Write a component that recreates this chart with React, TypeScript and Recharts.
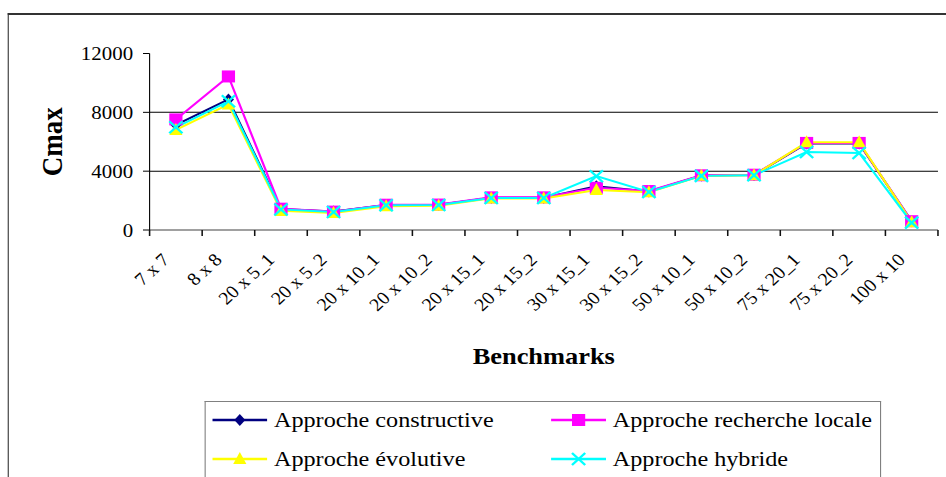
import { LineChart, Line, XAxis, YAxis, ReferenceLine } from 'recharts'

const categories = [
  '7 x 7', '8 x 8', '20 x 5_1', '20 x 5_2', '20 x 10_1', '20 x 10_2', '20 x 15_1', '20 x 15_2',
  '30 x 15_1', '30 x 15_2', '50 x 10_1', '50 x 10_2', '75 x 20_1', '75 x 20_2', '100 x 10',
]
const constructive = [7150, 8880, 1420, 1250, 1700, 1720, 2200, 2200, 2980, 2620, 3700, 3740, 5880, 5880, 600]
const rechercheLocale = [7520, 10440, 1450, 1250, 1720, 1730, 2220, 2220, 2870, 2650, 3720, 3760, 5920, 5920, 600]
const evolutive = [6800, 8540, 1300, 1150, 1620, 1650, 2150, 2150, 2720, 2560, 3680, 3720, 5960, 5960, 520]
const hybride = [6980, 8750, 1400, 1220, 1680, 1700, 2180, 2180, 3660, 2580, 3680, 3720, 5300, 5240, 500]

const yTicks = [0, 4000, 8000, 12000]
const gridValues = [4000, 8000]

const SERIES = [
  { key: 'constructive', name: 'Approche constructive', color: '#000080', shape: 'diamond' },
  { key: 'recherche', name: 'Approche recherche locale', color: '#ff00ff', shape: 'square' },
  { key: 'evolutive', name: 'Approche évolutive', color: '#ffff00', shape: 'triangle' },
  { key: 'hybride', name: 'Approche hybride', color: '#00ffff', shape: 'cross' },
]

const data = categories.map((name, i) => ({
  name,
  constructive: constructive[i],
  recherche: rechercheLocale[i],
  evolutive: evolutive[i],
  hybride: hybride[i],
}))

const FONT = '"Liberation Serif", "Times New Roman", serif'
const SX = 1.1 // the source picture is stretched horizontally
const CHART_W = 860
const CHART_H = 477
const Y_AXIS_W = 136
const MARGIN = { top: 53.5, right: 7.3, bottom: 0, left: 0 }
const BAND = (CHART_W - Y_AXIS_W - MARGIN.right - MARGIN.left) / categories.length

function Marker({ shape, color, cx, cy }: { shape: string; color: string; cx: number; cy: number }) {
  if (shape === 'diamond')
    return <polygon points={`${cx},${cy - 6} ${cx + 5},${cy} ${cx},${cy + 6} ${cx - 5},${cy}`} fill={color} />
  if (shape === 'square') return <rect x={cx - 6} y={cy - 6} width={12} height={12} fill={color} />
  if (shape === 'triangle')
    return <polygon points={`${cx},${cy - 7} ${cx + 6},${cy + 5} ${cx - 6},${cy + 5}`} fill={color} />
  return (
    <g stroke={color} strokeWidth={2.2}>
      <line x1={cx - 6} y1={cy - 6} x2={cx + 6} y2={cy + 6} />
      <line x1={cx - 6} y1={cy + 6} x2={cx + 6} y2={cy - 6} />
    </g>
  )
}

// category label plus Excel-style tick marks on the band edges
const XTick = (props: any) => {
  const { x, y, payload, index } = props
  const ax = x - 5
  const ay = y + 31
  const left = x - BAND / 2
  return (
    <g>
      <rect x={left - 0.7} y={y} width={1.4} height={6} fill="#111" />
      {index === categories.length - 1 && <rect x={left + BAND - 0.7} y={y} width={1.4} height={6} fill="#111" />}
      <text x={ax} y={ay} transform={`rotate(-45 ${ax} ${ay})`} textAnchor="end" fontSize={18} fill="#000" fontFamily={FONT}>
        {payload.value}
      </text>
    </g>
  )
}

function LegendBox() {
  return (
    <div
      style={{
        position: 'absolute', left: 186, top: 401, width: 615, height: 76,
        borderTop: '1px solid #808080', borderLeft: '1px solid #808080', borderRight: '1px solid #808080',
        boxSizing: 'border-box', fontFamily: FONT, fontSize: 22, color: '#000',
      }}
    >
      {SERIES.map((s, i) => {
        const col = i % 2
        const row = Math.floor(i / 2)
        return (
          <div
            key={s.key}
            style={{
              position: 'absolute', left: col === 0 ? 6 : 314, top: row === 0 ? 5 : 44,
              display: 'flex', alignItems: 'center', height: 26, whiteSpace: 'nowrap',
            }}
          >
            <svg width={50} height={18} style={{ marginRight: 6 }}>
              <line x1={0} y1={9} x2={50} y2={9} stroke={s.color} strokeWidth={2.5} />
              <Marker shape={s.shape} color={s.color} cx={25} cy={9} />
            </svg>
            <span>{s.name}</span>
          </div>
        )
      })}
    </div>
  )
}

export default function App() {
  return (
    <div
      style={{
        position: 'absolute', left: 0, top: 0, width: CHART_W, height: CHART_H,
        transform: `scaleX(${SX})`, transformOrigin: '0 0', fontFamily: FONT, overflow: 'hidden',
      }}
    >
      <div
        style={{
          position: 'absolute', left: 6.5, top: 13, width: CHART_W, height: 470,
          borderTop: '2px solid #333', borderLeft: '1.8px solid #333',
        }}
      />
      <div style={{ position: 'absolute', left: 0, top: 0 }}>
        <LineChart width={CHART_W} height={CHART_H} data={data} margin={MARGIN}>
          <XAxis
            dataKey="name"
            scale="band"
            interval={0}
            height={CHART_H - 230}
            axisLine={{ stroke: '#808080', strokeWidth: 1.5 }}
            tickLine={false}
            tickSize={0}
            tickMargin={0}
            tick={<XTick />}
            label={({ viewBox }: any) => (
              <text
                x={viewBox.x + viewBox.width / 2}
                y={viewBox.y + 134}
                textAnchor="middle"
                fontSize={24}
                fontWeight="bold"
                fontFamily={FONT}
                fill="#000"
              >
                Benchmarks
              </text>
            )}
          />
          <YAxis
            domain={[0, 12000]}
            ticks={yTicks}
            interval={0}
            width={Y_AXIS_W}
            tickSize={6}
            tickMargin={9}
            axisLine={{ stroke: '#000' }}
            tickLine={{ stroke: '#000' }}
            tick={{ fill: '#000', fontSize: 19, fontFamily: FONT }}
            label={({ viewBox }: any) => {
              const lx = viewBox.x + 56
              const ly = viewBox.y + viewBox.height / 2
              return (
                <text
                  x={lx}
                  y={ly}
                  transform={`rotate(-90 ${lx} ${ly})`}
                  textAnchor="middle"
                  fontSize={27}
                  fontWeight="bold"
                  fontFamily={FONT}
                  fill="#000"
                >
                  Cmax
                </text>
              )
            }}
          />
          {gridValues.map(v => (
            <ReferenceLine key={v} y={v} stroke="#000" strokeWidth={1} />
          ))}
          {SERIES.map(s => (
            <Line
              key={s.key}
              dataKey={s.key}
              name={s.name}
              stroke={s.color}
              strokeWidth={2}
              isAnimationActive={false}
              dot={(p: any) => (
                <Marker key={`${s.key}-${p.index}`} shape={s.shape} color={s.color} cx={p.cx} cy={p.cy} />
              )}
              activeDot={false}
            />
          ))}
        </LineChart>
      </div>
      <LegendBox />
    </div>
  )
}
